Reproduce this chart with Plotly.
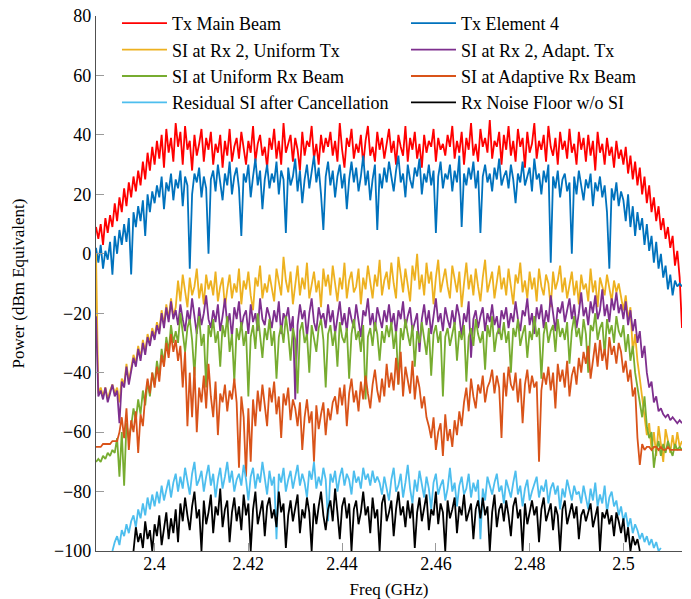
import numpy as np
import plotly.graph_objects as go

# ---------------- data (dB values, 0.5 MHz grid) ----------------
F0 = 2.3875      # first frequency sample (GHz)
STEP = 0.0005    # frequency step (GHz)

tx_main_beam = (
    [9, 5, 10, 3, 12, 7, 13, 9, 17, 11, 19, 14, 22, 16, 24, 19, 26, 21, 28, 23, 31, 25, 34, 28, 36] +
    [30, 38, 32, 40, 29, 42, 34, 39, 31, 44, 36, 41, 30, 43, 35, 38, 28, 40, 33, 37, 42, 31, 39, 35, 41] +
    [30, 37, 34, 40, 29, 38, 33, 42, 31, 36, 39, 32, 41, 35, 30, 38, 34, 43, 31, 37, 40, 33, 36, 29, 39] +
    [35, 42, 32, 38, 30, 44, 34, 37, 40, 31, 39, 35, 28, 41, 33, 38, 36, 43, 32, 37, 30, 40, 34, 39, 36] +
    [41, 33, 38, 31, 44, 35, 29, 39, 36, 42, 32, 37, 34, 40, 30, 38, 43, 33, 36, 31, 41, 35, 39, 32, 37] +
    [42, 34, 38, 30, 40, 36, 33, 43, 31, 39, 35, 41, 32, 37, 29, 40, 34, 38, 36, 42, 31, 39, 35, 37, 33] +
    [40, 36, 43, 32, 38, 34, 41, 30, 39, 35, 44, 33, 37, 31, 42, 36, 39, 34, 45, 32, 38, 36, 41, 30, 40] +
    [35, 43, 33, 38, 31, 42, 36, 39, 29, 41, 34, 37, 44, 32, 38, 35, 40, 31, 43, 36, 33, 39, 30, 41, 35] +
    [38, 32, 42, 34, 37, 30, 41, 35, 39, 31, 40, 33, 38, 28, 41, 34, 37, 30, 39, 33, 36, 29, 38, 32, 35] +
    [30, 36, 27, 33, 25, 31, 23, 29, 20, 26, 17, 23, 14, 19, 11, 16, 8, 12, 5, 9, 2, 6, -4, 1, -8] +
    [-25]
)

tx_element4 = (
    [2, -3, 3, -5, 1, -2, 4, -7, 6, 0, 8, 3, 10, 4, 12, -7, 14, 9, 16, 11, 18, 6, 20, 14, 21] +
    [17, 23, 19, 26, 15, 24, 21, 27, 18, 25, 22, 28, 16, 26, 23, -5, 20, 27, 24, 29, 19, 26, 22, 0, 25] +
    [28, 21, 30, 24, 18, 27, 23, 31, 20, 26, 29, 22, 6, 27, 24, 30, 19, 26, 32, 23, 28, 15, 25, 30, 22] +
    [27, 24, 31, 20, 28, 25, 7, 29, 23, 26, 32, 21, 28, 17, 25, 30, 22, 27, 33, 24, 29, 20, 8, 26, 31] +
    [23, 28, 19, 26, 30, 22, 27, 15, 25, 31, 24, 29, 21, 26, 33, 23, 28, 18, 25, 30, 8, 27, 22, 29, 24] +
    [31, 26, 21, 28, 33, 24, 27, 19, 30, 25, 22, 29, 26, 32, 20, 27, 24, 30, 23, 28, 7, 26, 31, 22, 27] +
    [25, 30, 21, 28, 24, 33, 9, 27, 23, 29, 25, 31, 22, 28, 7, 26, 30, 24, 27, 21, 29, 25, 32, 23, 26] +
    [28, 22, 30, 25, 17, 27, 24, 31, 23, 26, 29, 21, 32, 25, 27, 20, 28, 24, 30, -3, 26, 22, 28, 19, 25] +
    [27, 21, 24, 0, 26, 20, 28, 23, 18, 25, 22, 27, 16, 24, 21, 26, 19, 23, 14, -5, 22, 18, 24, 16, 21] +
    [18, 11, 20, 9, 16, 6, 14, 8, 12, 3, 10, 1, 6, -3, 4, -5, 0, -8, -4, -12, -7, -14, -9, -11, -10] +
    [-11]
)

si_rx2_uniform_tx = (
    [0, -47, -45, -48, -45, -49, -46, -44, -47, -45, -50, -42, -44, -37, -43, -38, -34, -37, -31, -35, -29, -33, -27, -30, -25] +
    [-28, -23, -26, -19, -24, -17, -22, -15, -21, -18, -9, -16, -7, -13, -18, -8, -14, -11, -5, -15, -10, -17, -7, -12, -9] +
    [-14, -6, -16, -11, -8, -18, -12, -7, -15, -10, -13, -5, -17, -9, -12, -6, -14, -19, -8, -11, -4, -15, -10, -13, -7] +
    [-12, -16, -5, -10, -14, -1, -9, -13, -6, -17, -11, -4, -14, -8, -12, -3, -15, -10, -6, -13, -9, -18, -5, -11, -7] +
    [-14, -4, -10, -16, -8, -12, -3, -15, -9, -6, -13, -11, -5, -17, -8, -12, -4, -10, -15, -7, -11, -2, -14, -9, -6] +
    [-12, -3, -10, -15, -1, -8, -13, -5, -11, -16, -4, -9, 0, -12, -7, -14, -3, -10, -6, -17, -8, -2, -13, -9, -5] +
    [-11, -15, -4, -9, -13, -6, -18, -10, -3, -12, -7, -14, -5, -11, -16, -8, -2, -13, -9, -6, -15, -10, -4, -12, -8] +
    [-14, -5, -11, -17, -7, -10, -3, -13, -9, -15, -6, -12, -8, -16, -5, -11, -14, -7, -10, -18, -6, -12, -9, -4, -13] +
    [-8, -15, -11, -6, -14, -9, -17, -7, -12, -10, -16, -5, -13, -9, -18, -8, -11, -14, -7, -12, -16, -9, -13, -10, -15] +
    [-19, -14, -22, -18, -33, -27, -36, -42, -48, -55, -61, -57, -66, -60, -68, -58, -64, -70, -59, -63, -67, -61, -66, -60, -65] +
    [-63]
)

si_rx2_adapt_tx = (
    [-21, -48, -46, -49, -45, -50, -47, -44, -48, -46, -57, -43, -45, -38, -44, -40, -35, -38, -32, -36, -30, -34, -28, -31, -26] +
    [-29, -24, -27, -20, -25, -18, -23, -16, -22, -19, -24, -17, -22, -26, -19, -23, -15, -21, -27, -18, -24, -20, -14, -22, -25] +
    [-19, -23, -17, -26, -21, -15, -24, -20, -28, -18, -22, -16, -25, -21, -19, -27, -17, -23, -20, -26, -15, -22, -24, -18, -21] +
    [-25, -19, -23, -16, -27, -20, -22, -18, -26, -21, -49, -24, -17, -22, -19, -28, -20, -15, -23, -26, -18, -22, -20, -25, -17] +
    [-23, -19, -27, -21, -16, -24, -20, -26, -18, -22, -25, -17, -23, -28, -19, -21, -15, -24, -20, -26, -18, -22, -25, -19, -23] +
    [-17, -24, -20, -27, -19, -22, -16, -25, -21, -18, -26, -23, -20, -33, -22, -17, -24, -19, -27, -21, -15, -23, -20, -26, -18] +
    [-22, -25, -19, -24, -17, -21, -28, -20, -23, -16, -35, -22, -19, -25, -21, -18, -26, -20, -23, -17, -24, -21, -27, -19, -22] +
    [-18, -25, -20, -23, -16, -22, -26, -19, -21, -15, -24, -20, -27, -18, -22, -17, -25, -19, -23, -14, -21, -26, -18, -20, -16] +
    [-23, -19, -15, -22, -17, -25, -20, -13, -21, -18, -24, -16, -20, -14, -22, -19, -12, -21, -17, -23, -15, -19, -13, -20, -17] +
    [-22, -16, -24, -19, -26, -22, -30, -26, -35, -31, -40, -45, -43, -50, -48, -53, -52, -54, -55, -54, -56, -55, -56, -57, -56] +
    [-57]
)

si_uniform_rx_beam = (
    [-70, -69, -70, -68, -69, -67, -68, -66, -67, -62, -75, -60, -78, -57, -62, -58, -52, -56, -49, -54, -46, -51, -43, -48, -40] +
    [-44, -36, -41, -32, -37, -28, -33, -24, -30, -26, -30, -20, -27, -33, -25, -22, -29, -41, -26, -21, -31, -27, -45, -24, -28] +
    [-22, -30, -26, -38, -24, -28, -21, -33, -27, -43, -25, -29, -23, -31, -26, -48, -28, -24, -32, -20, -27, -35, -25, -29, -22] +
    [-31, -26, -42, -28, -24, -30, -21, -27, -36, -25, -29, -47, -26, -23, -30, -27, -40, -24, -28, -33, -25, -22, -29, -45, -27] +
    [-24, -31, -26, -38, -23, -28, -30, -25, -42, -27, -22, -29, -26, -33, -24, -49, -28, -25, -31, -23, -27, -36, -26, -30, -24] +
    [-28, -23, -32, -26, -44, -25, -29, -22, -27, -31, -24, -38, -26, -30, -23, -28, -34, -25, -41, -27, -24, -30, -26, -48, -28] +
    [-25, -31, -27, -23, -36, -26, -29, -24, -43, -28, -25, -31, -22, -27, -30, -26, -39, -24, -28, -21, -33, -27, -25, -29, -23] +
    [-30, -26, -40, -25, -28, -22, -31, -27, -24, -35, -26, -29, -21, -28, -25, -42, -27, -23, -30, -26, -24, -33, -22, -28, -25] +
    [-29, -23, -37, -26, -21, -28, -25, -31, -22, -27, -40, -24, -26, -20, -29, -25, -23, -34, -22, -27, -24, -30, -21, -26, -28] +
    [-24, -33, -27, -36, -31, -40, -45, -50, -55, -48, -58, -62, -60, -72, -66, -63, -68, -64, -67, -63, -66, -68, -64, -66, -65] +
    [-66]
)

si_adaptive_rx_beam = (
    [-65, -65, -65, -64, -64, -64, -64, -63, -63, -63, -60, -55, -62, -52, -66, -56, -60, -53, -67, -54, -58, -48, -42, -47, -40] +
    [-45, -38, -43, -34, -38, -30, -35, -27, -33, -29, -36, -31, -45, -33, -58, -40, -55, -38, -60, -45, -50, -41, -52, -37, -48] +
    [-55, -43, -61, -47, -50, -44, -53, -46, -49, -42, -50, -72, -48, -55, -75, -52, -70, -49, -58, -46, -53, -44, -51, -58, -45] +
    [-50, -43, -54, -48, -62, -47, -51, -45, -56, -49, -52, -58, -50, -66, -55, -49, -57, -53, -70, -51, -59, -54, -50, -61, -52] +
    [-56, -50, -48, -54, -45, -51, -44, -58, -47, -42, -50, -46, -53, -43, -49, -41, -47, -52, -44, -39, -46, -50, -42, -48, -37] +
    [-45, -40, -46, -35, -44, -33, -48, -38, -42, -47, -36, -49, -41, -45, -52, -48, -55, -58, -62, -55, -66, -60, -57, -68, -54] +
    [-63, -59, -65, -56, -61, -53, -58, -50, -45, -53, -42, -48, -52, -44, -47, -41, -50, -45, -43, -39, -47, -41, -45, -62, -40] +
    [-48, -38, -44, -46, -40, -50, -42, -57, -44, -39, -47, -41, -45, -43, -70, -46, -40, -44, -38, -46, -40, -52, -37, -43, -39] +
    [-45, -36, -48, -41, -38, -44, -35, -40, -33, -37, -31, -42, -35, -30, -38, -29, -36, -32, -39, -28, -34, -31, -37, -30, -33] +
    [-40, -36, -43, -39, -48, -45, -62, -71, -64, -66, -65, -65, -66, -65, -65, -66, -65, -66, -66, -65, -66, -66, -66, -66, -66] +
    [-66]
)

RESIDUAL_START = 2.391
residual_si = (
    [-100, -97, -95, -98, -93, -95, -91, -94, -90, -88, -92, -86, -89, -84, -88, -82, -86, -81, -85, -80,
     -84, -78, -83, -79, -76, -82, -77, -74, -80] +
    [-75, -79, -72, -77, -81, -74, -70, -78, -76, -73, -80, -75, -71, -78, -74, -82, -76, -72, -79, -75, -70, -77, -73, -80, -76] +
    [-74, -78, -71, -76, -83, -75, -72, -79, -74, -77, -70, -76, -81, -73, -78, -75, -96, -74, -77, -72, -80, -76, -73, -79, -75] +
    [-71, -78, -74, -77, -82, -73, -76, -70, -79, -75, -78, -72, -76, -90, -74, -77, -73, -80, -75, -72, -78, -74, -76, -81, -73] +
    [-77, -75, -79, -72, -76, -74, -78, -73, -77, -75] +
    [-77, -81, -75, -79, -83, -76, -72, -80, -78, -74, -82, -77, -71, -79, -84, -76, -80, -73, -78, -82, -75, -79, -86, -77, -74] +
    [-81, -78, -76, -83, -79, -72, -80, -77, -85, -78, -75, -81, -79, -74, -82, -77, -80, -76, -96, -79, -83, -75, -78, -81, -77] +
    [-74, -80, -78, -84, -76, -79, -82, -77, -73, -81, -78, -85, -79, -76, -83, -80, -77, -75, -82, -78] +
    [-80, -76, -84, -79, -77, -81, -78, -86, -79, -82, -76, -80, -83, -78, -81] +
    [-80, -84, -78, -82, -86, -79, -83, -77, -85, -81, -84, -78, -87, -82, -80, -85, -83, -88, -85, -90,
     -87, -92, -89, -94, -91, -93, -96, -94, -97, -95, -98, -96, -99, -97, -100, -99]
)

NOISE_START = 2.3955
rx_noise_floor = (
    [-100, -92, -97, -94, -99, -90, -96, -93, -100, -91, -95, -88, -98, -92, -87, -96, -89, -94, -86, -97] +
    [-84, -90, -82, -88, -93, -85, -80, -89, -86, -100, -83, -91, -87, -81, -94, -85, -88, -79, -92, -86, -83, -97, -87, -82, -90] +
    [-85, -93, -81, -88, -84, -100, -86, -80, -91, -87, -83, -95, -85, -82, -89, -86, -92, -80, -87, -84, -99, -88, -83, -90, -85] +
    [-81, -94, -86, -89, -82, -87, -100, -84, -91, -85, -80, -88, -93, -86, -83, -90, -79, -87, -96, -85, -82, -89, -84, -100, -86] +
    [-83, -91, -87, -80, -88, -85, -94, -82, -89, -86, -100, -84, -81, -90, -87, -83, -95, -86, -80, -88, -85, -92, -83, -89, -84] +
    [-99, -87, -82, -90, -85, -81, -93, -86, -88, -80, -91, -84, -87, -100, -83, -89, -86, -82, -94, -85, -88, -81, -90, -87, -84] +
    [-96, -86, -83, -89, -82, -88, -85, -100, -87, -81, -92, -86, -84, -90, -83, -88, -95, -85, -82, -89, -86, -100, -84, -91, -87] +
    [-83, -88, -85, -97, -86, -82, -90, -87, -84, -93, -85, -88, -100, -86, -83, -91, -87, -84, -89, -85, -96, -88, -86, -90, -87] +
    [-84, -92, -88, -85, -100, -87, -89, -86, -91, -88, -95, -87] +
    [-90, -94, -89, -97, -92, -100, -95, -98, -96, -100]
)

series_names = ["Tx Main Beam", "Tx Element 4", "SI at Rx 2, Uniform Tx", "SI at Rx 2, Adapt. Tx",
                "SI at Uniform Rx Beam", "SI at Adaptive Rx Beam", "Residual SI after Cancellation",
                "Rx Noise Floor w/o SI"]
series_values = [tx_main_beam, tx_element4, si_rx2_uniform_tx, si_rx2_adapt_tx,
                 si_uniform_rx_beam, si_adaptive_rx_beam, residual_si, rx_noise_floor]
series_start = [F0, F0, F0, F0, F0, F0, RESIDUAL_START, NOISE_START]
series_colors = ["#FF0000", "#0072BD", "#EDB120", "#7E2F8E", "#77AC30", "#D95319", "#4DBEEE", "#000000"]
series_legend = ["legend", "legend2", "legend", "legend2", "legend", "legend2", "legend", "legend2"]

x_tickvals = [2.40, 2.42, 2.44, 2.46, 2.48, 2.50]
x_ticktext = ["2.4", "2.42", "2.44", "2.46", "2.48", "2.5"]
y_tickvals = [-100, -80, -60, -40, -20, 0, 20, 40, 60, 80]

FONT = "Liberation Serif"

fig = go.Figure()
for name, vals, start, col, leg in zip(series_names, series_values, series_start,
                                        series_colors, series_legend):
    freq = start + STEP * np.arange(len(vals))
    fig.add_trace(go.Scatter(
        x=freq, y=vals, mode="lines", name=name,
        line=dict(color=col, width=1.8),
        legend=leg, legendgroup=name,
    ))

legend_common = dict(
    orientation="v", xanchor="left", yanchor="top", y=1.0206,
    itemwidth=45, tracegroupgap=0, bgcolor="rgba(0,0,0,0)", borderwidth=0,
    font=dict(family=FONT, size=18, color="#000"),
)

fig.update_layout(
    width=691, height=599,
    margin=dict(l=96, r=9, t=16, b=48, autoexpand=False),
    paper_bgcolor="white", plot_bgcolor="white",
    font=dict(family=FONT, size=18, color="#000"),
    showlegend=True,
    legend=dict(x=0.0358, **legend_common),
    legend2=dict(x=0.529, **legend_common),
    xaxis=dict(
        range=[2.3875, 2.5125], tickvals=x_tickvals, ticktext=x_ticktext,
        showline=True, linecolor="#505050", linewidth=1.3,
        ticks="inside", ticklen=8, tickcolor="#9a9a9a", tickwidth=1,
        showgrid=False, zeroline=False, mirror=False,
        tickfont=dict(family=FONT, size=18), ticklabelstandoff=-4,
        title=dict(text="Freq (GHz)", font=dict(family=FONT, size=17), standoff=10),
        automargin=False,
    ),
    yaxis=dict(
        range=[-100, 80], tickvals=y_tickvals,
        showline=True, linecolor="#505050", linewidth=1.3,
        ticks="inside", ticklen=8, tickcolor="#9a9a9a", tickwidth=1,
        showgrid=False, zeroline=False, mirror=False,
        tickfont=dict(family=FONT, size=18),
        title=dict(text="Power (dBm Equivalent)", font=dict(family=FONT, size=17), standoff=25),
        automargin=False,
    ),
)

fig.write_html("out.html", config={"displayModeBar": False},
               post_script="document.body.style.margin='0';")
